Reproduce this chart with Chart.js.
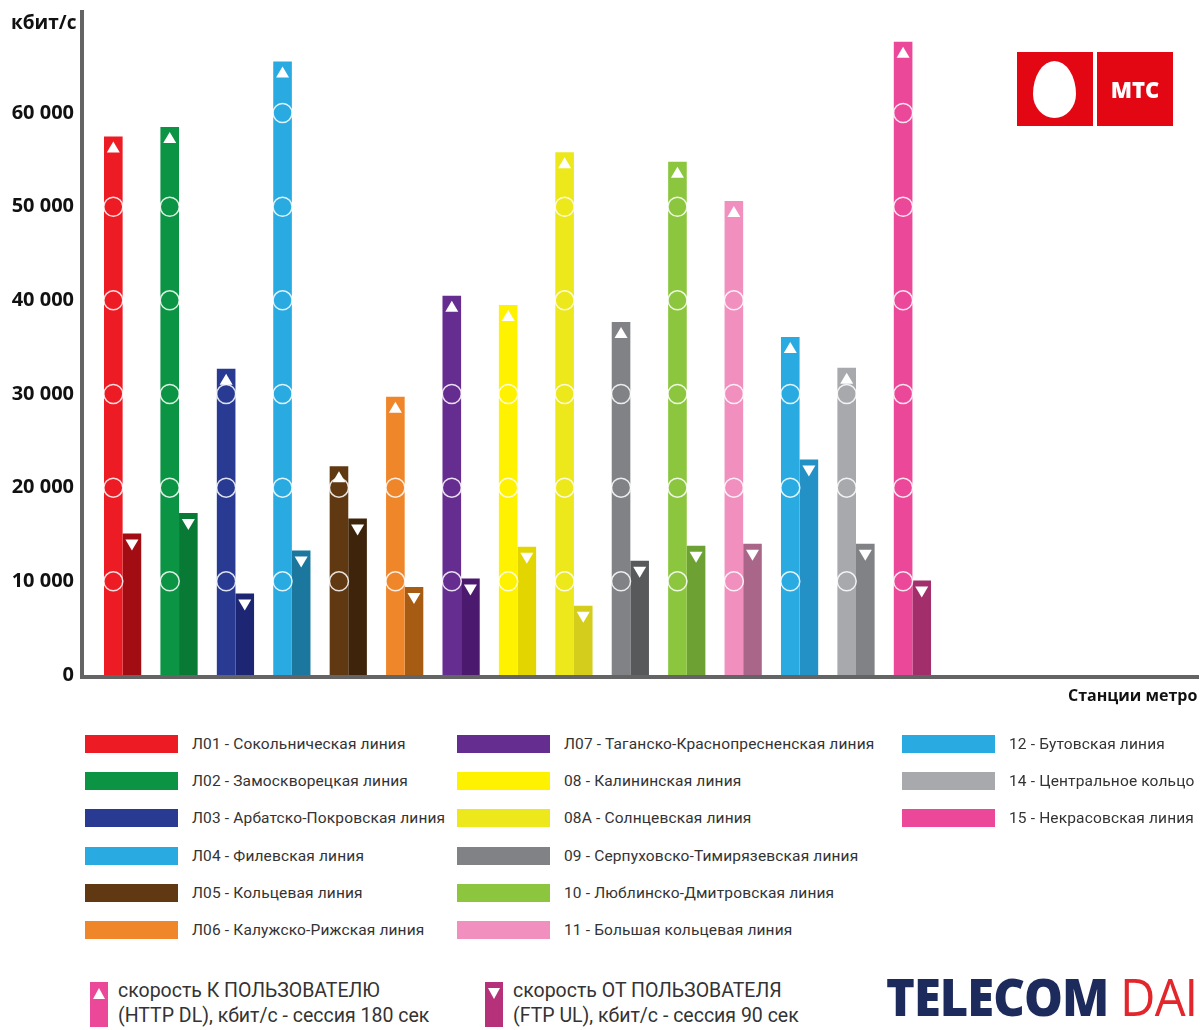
<!DOCTYPE html>
<html lang="ru">
<head>
<meta charset="utf-8">
<title>Скорость мобильного интернета МТС в метро</title>
<script src="https://cdn.jsdelivr.net/npm/chart.js@4.4.1/dist/chart.umd.min.js"></script>
<style>
  html, body { margin: 0; padding: 0; background: #fff; }
  #page { position: relative; width: 1200px; height: 1030px; overflow: hidden; font-family: Roboto, "Open Sans", sans-serif; }
  #chartBox { position: absolute; left: 0; top: 0; width: 1200px; height: 700px; }
  .axisTitle { position: absolute; font-family: "Open Sans", sans-serif; font-weight: 700; color: #111; white-space: nowrap; }
  .legRow { position: absolute; height: 20px; white-space: nowrap; }
  .legRow .sw { position: absolute; left: 0; top: 1px; width: 93px; height: 18px; }
  .legRow .tx { position: absolute; left: 107px; top: 0; font-size: 15.5px; letter-spacing: 0.15px; line-height: 20px; color: #333; }
  .kind { position: absolute; white-space: nowrap; }
  .kind svg { position: absolute; left: 0; top: 0; }
  .kind .tx { position: absolute; left: 28px; top: -4px; font-size: 19.5px; line-height: 25px; color: #333; }
  #mts { position: absolute; left: 1017px; top: 52px; width: 155px; height: 74px; }
  #mts .sq { position: absolute; top: 0; width: 76px; height: 74px; background: #e30613; }
  #mts .egg { position: absolute; left: 16px; top: 9px; width: 43px; height: 57px; background: #fff;
              border-radius: 50% 50% 50% 50% / 58% 58% 42% 42%; }
  #mts .word { position: absolute; left: 0; top: 0; width: 76px; line-height: 74px; text-align: center;
               color: #fff; font-family: "Open Sans", sans-serif; font-weight: 800; font-size: 22px; }
  #brand { position: absolute; left: 886px; top: 966px; white-space: nowrap; font-family: "Open Sans", sans-serif;
           font-size: 52px; line-height: 60px; transform-origin: 0 0; transform: scaleX(0.94); letter-spacing: -1px; }
  #brand .a { color: #1d2b5c; font-weight: 800; }
  #brand .b { color: #e2262c; font-weight: 400; }
</style>
</head>
<body>
<div id="page">
  <div id="chartBox"><canvas id="chart" width="1200" height="700"></canvas></div>
  <div class="axisTitle" style="left:11px; top:9px; font-size:19px;">кбит/с</div>
  <div class="axisTitle" style="left:1068px; top:684px; font-size:16px;">Станции метро</div>
  <div id="mts">
    <div class="sq" style="left:0"><div class="egg"></div></div>
    <div class="sq" style="left:80px"><div class="word">МТС</div></div>
  </div>
  <div id="legend"></div>
  <div class="kind" style="left:90px; top:982px;">
    <svg width="20" height="46"><rect x="0" y="0" width="18" height="45" fill="#ec4899"/><polygon points="3,17 15,17 9,6" fill="#fff"/></svg>
    <div class="tx">скорость К ПОЛЬЗОВАТЕЛЮ<br>(HTTP DL), кбит/с - сессия 180 сек</div>
  </div>
  <div class="kind" style="left:485px; top:982px;">
    <svg width="20" height="46"><rect x="0" y="0" width="18" height="45" fill="#b5327a"/><polygon points="3,6 15,6 9,17" fill="#fff"/></svg>
    <div class="tx">скорость ОТ ПОЛЬЗОВАТЕЛЯ<br>(FTP UL), кбит/с - сессия 90 сек</div>
  </div>
  <div id="brand"><span class="a">TELECOM</span> <span class="b">DAI</span></div>
</div>
<script>
// Metro lines
const lineCodes = ['Л01', 'Л02', 'Л03', 'Л04', 'Л05', 'Л06', 'Л07', '08', '08A', '09', '10', '11', '12', '14', '15'];
const lineNames = ['Сокольническая линия', 'Замоскворецкая линия', 'Арбатско-Покровская линия', 'Филевская линия',
  'Кольцевая линия', 'Калужско-Рижская линия', 'Таганско-Краснопресненская линия', 'Калининская линия',
  'Солнцевская линия', 'Серпуховско-Тимирязевская линия', 'Люблинско-Дмитровская линия', 'Большая кольцевая линия',
  'Бутовская линия', 'Центральное кольцо', 'Некрасовская линия'];

// Download speed (HTTP DL, 180 s session), kbit/s
const downloadSpeed = [57500, 58500, 32700, 65500, 22300, 29700, 40500, 39500, 55800, 37700, 54800, 50600, 36100, 32800, 67600];
// Upload speed (FTP UL, 90 s session), kbit/s
const uploadSpeed = [15100, 17300, 8700, 13300, 16700, 9400, 10300, 13700, 7400, 12200, 13800, 14000, 23000, 14000, 10100];

// Y axis ticks
const tickValues = [0, 10000, 20000, 30000, 40000, 50000, 60000];
const tickLabels = ['0', '10 000', '20 000', '30 000', '40 000', '50 000', '60 000'];

// Line colours: bright for download, darker shade for upload
const dlColors = ['#ed1c24', '#0b9444', '#283a92', '#29abe2', '#603913', '#f0862a', '#662d91', '#fff200',
  '#ede81c', '#808285', '#8cc63f', '#f18fbe', '#29abe2', '#a7a9ac', '#ec4899'];
const ulColors = ['#a10d13', '#087a36', '#1c2673', '#1b779e', '#3f240c', '#a65c12', '#4b1a6e', '#e3d500',
  '#d4cd1c', '#58595b', '#6ea133', '#aa6689', '#2390c6', '#808285', '#a22e6c'];

// Legend columns (indexes into the line arrays)
const legendColumns = [[0, 1, 2, 3, 4, 5], [6, 7, 8, 9, 10, 11], [12, 13, 14]];
const legendX = [85, 457, 902];

const legend = document.getElementById('legend');
legendColumns.forEach((col, c) => {
  col.forEach((idx, r) => {
    const row = document.createElement('div');
    row.className = 'legRow';
    row.style.left = legendX[c] + 'px';
    row.style.top = (734 + r * 37.2) + 'px';
    row.innerHTML = '<div class="sw" style="background:' + dlColors[idx] + '"></div>' +
      '<div class="tx">' + lineCodes[idx] + ' - ' + lineNames[idx] + '</div>';
    legend.appendChild(row);
  });
});

// White hollow rings on each download bar at every 10 000 step, arrow marks at the bar tops, and the axes
const barMarks = {
  id: 'barMarks',
  afterDatasetsDraw(chart) {
    const ctx = chart.ctx;
    const ys = chart.scales.y;
    const area = chart.chartArea;
    ctx.save();
    const dlMeta = chart.getDatasetMeta(0);
    const ulMeta = chart.getDatasetMeta(1);
    dlMeta.data.forEach((bar, i) => {
      const v = downloadSpeed[i];
      ctx.strokeStyle = 'rgba(255,255,255,0.85)';
      ctx.lineWidth = 1.5;
      tickValues.forEach(t => {
        if (t > 0 && t <= v - 1500) {
          ctx.beginPath();
          ctx.arc(bar.x, ys.getPixelForValue(t), 9.5, 0, Math.PI * 2);
          ctx.stroke();
        }
      });
      ctx.fillStyle = '#fff';
      ctx.beginPath();
      ctx.moveTo(bar.x, bar.y + 5);
      ctx.lineTo(bar.x + 6.5, bar.y + 16);
      ctx.lineTo(bar.x - 6.5, bar.y + 16);
      ctx.closePath();
      ctx.fill();
    });
    ulMeta.data.forEach(bar => {
      ctx.fillStyle = '#fff';
      ctx.beginPath();
      ctx.moveTo(bar.x - 6.5, bar.y + 6);
      ctx.lineTo(bar.x + 6.5, bar.y + 6);
      ctx.lineTo(bar.x, bar.y + 17);
      ctx.closePath();
      ctx.fill();
    });
    ctx.fillStyle = '#646464';
    ctx.fillRect(area.left - 2, area.top, 4, area.bottom - area.top + 4);
    ctx.fillRect(area.left - 2, area.bottom, area.right - area.left + 2, 4);
    ctx.restore();
  }
};

new Chart(document.getElementById('chart'), {
  type: 'bar',
  data: {
    datasets: [
      {
        label: 'скорость К ПОЛЬЗОВАТЕЛЮ',
        data: downloadSpeed.map((v, i) => ({ x: i, y: v })),
        backgroundColor: dlColors,
        borderWidth: 0
      },
      {
        label: 'скорость ОТ ПОЛЬЗОВАТЕЛЯ',
        data: uploadSpeed.map((v, i) => ({ x: i, y: v })),
        backgroundColor: ulColors,
        borderWidth: 0
      }
    ]
  },
  options: {
    responsive: false,
    animation: false,
    layout: { padding: { top: 10, right: 1, bottom: 25, left: 0 } },
    datasets: { bar: { categoryPercentage: 0.66, barPercentage: 1.0 } },
    plugins: { legend: { display: false }, tooltip: { enabled: false } },
    scales: {
      x: {
        type: 'linear',
        display: false,
        offset: false,
        bounds: 'ticks',
        min: -0.72,
        max: 19.08
      },
      y: {
        min: 0,
        max: 71000,
        afterFit(scale) {
          scale.width = 82;
          scale.paddingTop = 0;
          scale.paddingBottom = 0;
        },
        afterBuildTicks(scale) { scale.ticks = tickValues.map(v => ({ value: v })); },
        grid: { display: false, drawTicks: false },
        border: { display: false },
        ticks: {
          padding: 8,
          color: '#111',
          font: { family: 'Open Sans', weight: 'bold', size: 20 },
          callback(value) {
            const k = tickValues.indexOf(value);
            return k >= 0 ? tickLabels[k] : '';
          }
        }
      }
    }
  },
  plugins: [barMarks]
});
</script>
</body>
</html>
